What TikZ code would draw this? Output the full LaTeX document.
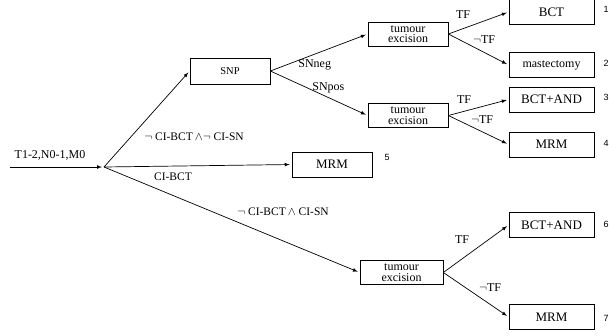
\documentclass[tikz,border=0pt]{standalone}
\usepackage{fontspec}
\setmainfont{Liberation Serif}
\setsansfont{Liberation Sans}

\begin{document}
\begin{tikzpicture}[x=1pt,y=-1pt,line width=0.7pt]
\tikzstyle{recti}=[rectangle,draw,line width=0.7pt,minimum width=85pt,minimum height=25pt,inner sep=1pt,font=\rmfamily\fontsize{13}{14}\selectfont]
\tikzstyle{excis}=[rectangle,draw,line width=0.7pt,minimum width=80pt,minimum height=24pt,inner sep=0.5pt,align=center,font=\rmfamily\fontsize{12}{10.5}\selectfont]
\tikzstyle{cond}=[inner sep=1pt,font=\rmfamily\fontsize{11.5}{12}\selectfont]
\tikzstyle{lbl}=[inner sep=1pt,font=\rmfamily\fontsize{12}{14}\selectfont]
\tikzstyle{num}=[inner sep=0pt,font=\sffamily\fontsize{9}{10}\selectfont]
\tikzstyle{arr}=[-latex,shorten >=2pt]
\useasboundingbox (0,0) rectangle (609,335);
% start and branch point
\coordinate (in) at (10,167);
\coordinate (root) at (104,167);
\node [lbl] (start) at (50,155) {T1-2,N0-1,M0};
% first level
\node [recti,minimum width=80pt,minimum height=26pt,font=\rmfamily\fontsize{10.5}{12}\selectfont] (snp) at (230,71) {SNP};
\node [recti,minimum width=80pt] (mrmf) at (332,164.5) {MRM};
\node [excis,minimum width=83pt] (exc) at (401.5,272.5) {tumour\\excision};
% second level
\node [excis] (exa) at (408,34) {tumour\\excision};
\node [excis] (exb) at (408,115.5) {tumour\\excision};
% leaves
\node [recti] (bct) at (551.5,12) {BCT};
\node [recti,font=\rmfamily\fontsize{12}{14}\selectfont] (mast) at (551.5,65) {mastectomy};
\node [recti] (bctand) at (551.5,99.5) {BCT+AND};
\node [recti] (mrma) at (551.5,144.5) {MRM};
\node [recti] (bctandb) at (551.5,225) {BCT+AND};
\node [recti] (mrmb) at (551.5,317) {MRM};
% numbers
\node [num] (n1) at (606,9) {1};
\node [num] (n2) at (606,63) {2};
\node [num] (n3) at (606,97) {3};
\node [num] (n4) at (606,143) {4};
\node [num] (n5) at (387,157) {5};
\node [num] (n6) at (606,224) {6};
\node [num] (n7) at (606,318) {7};
% edges
\draw [arr] (in) -- (root);
\draw [arr] (root) -- (snp.west);
\draw [arr] (root) -- (mrmf.west);
\draw [arr] (root) -- (exc.west);
\draw [arr] (snp.east) -- (exa.west);
\draw [arr] (snp.east) -- (exb.west);
\draw [arr] (exa.east) -- (bct.west);
\draw [arr] (exa.east) -- (mast.west);
\draw [arr] (exb.east) -- (bctand.west);
\draw [arr] (exb.east) -- (mrma.west);
\draw [arr] (exc.east) -- (bctandb.west);
\draw [arr] (exc.east) -- (mrmb.west);
% edge labels
\node [cond] (c1) at (194,137) {$\neg$ CI-BCT$\,\wedge\neg$ CI-SN};
\node [cond] (c2) at (173,177) {CI-BCT};
\node [cond] (c3) at (283,212) {$\neg$ CI-BCT$\,\wedge$ CI-SN};
\node [lbl,anchor=west] (sneg) at (297,65) {SNneg};
\node [lbl,anchor=west] (spos) at (311,88) {SNpos};
\node [lbl] (tf1) at (463,15) {TF};
\node [lbl] (ntf1) at (484,40) {$\neg$TF};
\node [lbl] (tf2) at (464,100) {TF};
\node [lbl] (ntf2) at (482,120) {$\neg$TF};
\node [lbl] (tf3) at (462,240) {TF};
\node [lbl] (ntf3) at (490,288) {$\neg$TF};
\end{tikzpicture}
\end{document}
